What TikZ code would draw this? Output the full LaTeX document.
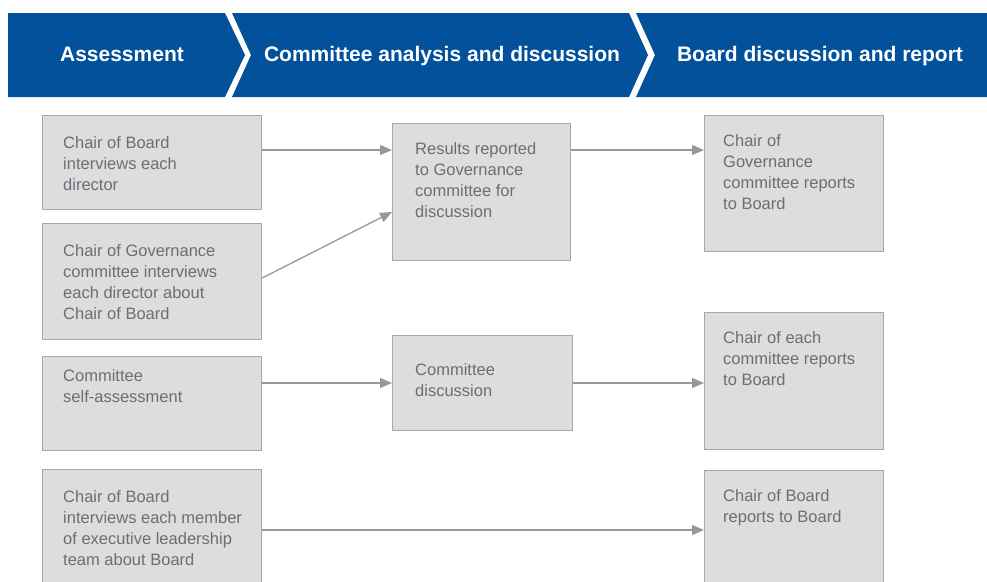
\documentclass[tikz,border=0pt]{standalone}
\usepackage{fontspec}
\setmainfont{Liberation Sans}
\usetikzlibrary{arrows.meta}
\definecolor{bandblue}{HTML}{03519B}
\definecolor{cardfill}{HTML}{DCDDDF}
\definecolor{cardline}{HTML}{A5A7AA}
\definecolor{cardink}{HTML}{6D6E71}
\definecolor{flowline}{HTML}{97989B}
\begin{document}
\begin{tikzpicture}[x=1pt,y=-1pt,
  card/.style={draw=cardline, fill=cardfill, line width=1.2pt, rectangle,
    inner sep=0pt, anchor=north west},
  cardtxt/.style={anchor=north west, inner sep=0pt, align=left, text=cardink,
    font=\fontsize{16.5}{21}\selectfont},
  flow/.style={draw=flowline, line width=1.3pt, -{Triangle[length=12pt,width=10pt]}},
  band/.style={fill=bandblue},
  bandtxt/.style={text=white, anchor=base, font=\fontsize{21}{25}\selectfont\bfseries}]
\useasboundingbox (0,0) rectangle (987,581);
\clip (0,0) rectangle (987,581);

% stage banner
\fill[band] (8,13) -- (225,13) -- (245,55) -- (225,97) -- (8,97) -- cycle;
\fill[band] (232,13) -- (629,13) -- (648,55) -- (629,97) -- (232,97) -- (251,55) -- cycle;
\fill[band] (636,13) -- (987,13) -- (987,97) -- (636,97) -- (655,55) -- cycle;
\node[bandtxt] (h1) at (122,61) {Assessment};
\node[bandtxt] (h2) at (442,61) {Committee analysis and discussion};
\node[bandtxt] (h3) at (820,61) {Board discussion and report};

% assessment column
\node[card, minimum width=219pt, minimum height=94pt] (a1) at (42,115) {};
\node[cardtxt] (a1t) at (63,136) {Chair of Board\\interviews each\\director};
\node[card, minimum width=219pt, minimum height=116pt] (a2) at (42,223) {};
\node[cardtxt] (a2t) at (63,244) {Chair of Governance\\committee interviews\\each director about\\Chair of Board};
\node[card, minimum width=219pt, minimum height=94pt] (a3) at (42,356) {};
\node[cardtxt] (a3t) at (63,369) {Committee\\self-assessment};
\node[card, minimum width=219pt, minimum height=140pt] (a4) at (42,469) {};
\node[cardtxt] (a4t) at (63,490) {Chair of Board\\interviews each member\\of executive leadership\\team about Board};

% committee column
\node[card, minimum width=178pt, minimum height=137pt] (b1) at (392,123) {};
\node[cardtxt] (b1t) at (415,142) {Results reported\\to Governance\\committee for\\discussion};
\node[card, minimum width=180pt, minimum height=95pt] (b2) at (392,335) {};
\node[cardtxt] (b2t) at (415,363) {Committee\\discussion};

% board column
\node[card, minimum width=179pt, minimum height=136pt] (c1) at (704,115) {};
\node[cardtxt] (c1t) at (723,134) {Chair of\\Governance\\committee reports\\to Board};
\node[card, minimum width=179pt, minimum height=137pt] (c2) at (704,312) {};
\node[cardtxt] (c2t) at (723,331) {Chair of each\\committee reports\\to Board};
\node[card, minimum width=179pt, minimum height=140pt] (c3) at (704,470) {};
\node[cardtxt] (c3t) at (723,489) {Chair of Board\\reports to Board};

% connector levels
\coordinate (r1) at (0,150);
\coordinate (r2s) at (0,278);
\coordinate (r2e) at (0,212);
\coordinate (r3) at (0,383);
\coordinate (r4) at (0,530);

\draw[flow] (a1.east |- r1) -- (b1.west |- r1);
\draw[flow] (a2.east |- r2s) -- (b1.west |- r2e);
\draw[flow] (a3.east |- r3) -- (b2.west |- r3);
\draw[flow] (b1.east |- r1) -- (c1.west |- r1);
\draw[flow] (b2.east |- r3) -- (c2.west |- r3);
\draw[flow] (a4.east |- r4) -- (c3.west |- r4);
\end{tikzpicture}
\end{document}
